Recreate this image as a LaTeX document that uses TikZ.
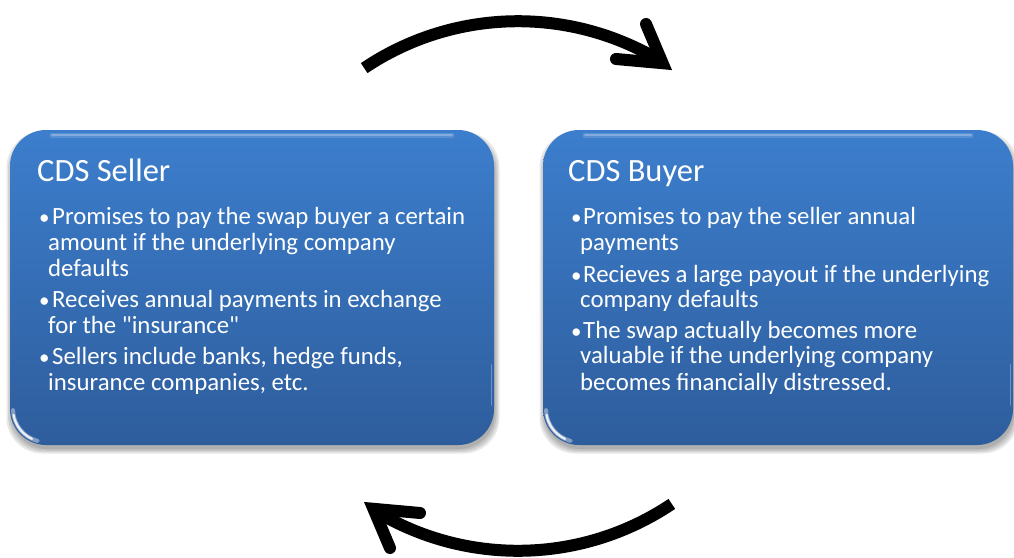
\documentclass[tikz,border=0pt]{standalone}
\usepackage{fontspec}
\setmainfont{Carlito}[Ligatures=TeXOff]
\usetikzlibrary{calc}
\definecolor{boxtop}{HTML}{3C7ECD}
\definecolor{boxbot}{HTML}{2E5D9C}
\begin{document}
\begin{tikzpicture}[x=1pt,y=-1pt,
  boxshape/.style={rounded corners=36pt, top color=boxtop, bottom color=boxbot, draw=none},
  shadowshape/.style={rounded corners=36pt, fill=black, opacity=0.09, draw=none},
  gloss/.style={white, line cap=round},
  titletext/.style={anchor=base west, inner sep=0pt, text=white, font=\fontsize{32.5}{38}\selectfont},
  bodyline/.style={anchor=base west, inner sep=0pt, text=white, font=\fontsize{24.8}{29}\selectfont},
  bulletmark/.style={anchor=base west, inner sep=0pt, text=white, font=\fontsize{21}{26}\selectfont},
  shaft/.style={line width=12pt, black, line cap=butt},
  barbs/.style={line width=12pt, black, line cap=round, line join=miter}]
\useasboundingbox (0,0) rectangle (1014,557);

% shadows
\foreach \d in {0,1.5,3,4.5}{
  \fill[shadowshape] (10-\d+1,130-\d+6) rectangle (494+\d+1,445+\d+4);
  \fill[shadowshape] (543-\d+1,130-\d+6) rectangle (1013+\d+1,445+\d+4);
}
% boxes
\path[boxshape] (10,130) rectangle (494,445);
\path[boxshape] (543,130) rectangle (1013,445);

% gloss highlights
\foreach \ox/\w in {0/484,533/470}{
  \begin{scope}[xshift=\ox pt]
    \draw[gloss, opacity=0.15, line width=5pt] (52,135.5) -- (10+\w-42,135.5);
    \draw[gloss, opacity=0.25, line width=2pt] (52,134.5) -- (10+\w-42,134.5);
    \draw[gloss, opacity=0.4, line width=4pt] (46,409) ++(178:33) arc[start angle=178, end angle=105, radius=33];
    \draw[gloss, opacity=0.85, line width=2.2pt] (46,409) ++(170:33) arc[start angle=170, end angle=115, radius=33];
    \draw[gloss, opacity=0.3, line width=1.5pt] (10+\w-2.5,365) -- (10+\w-2.5,405);
  \end{scope}
}

% titles
\node[titletext] (sellertitle) at (37,181) {CDS Seller};
\node[titletext] (buyertitle) at (568,181) {CDS Buyer};

% left body
\node[bulletmark] (lb1) at (39,224) {•};
\node[bodyline] (l1) at (52,224) {Promises to pay the swap buyer a certain};
\node[bodyline] (l2) at (48,250) {amount if the underlying company};
\node[bodyline] (l3) at (48,276) {defaults};
\node[bulletmark] (lb2) at (39,307) {•};
\node[bodyline] (l4) at (52,307) {Receives annual payments in exchange};
\node[bodyline] (l5) at (48,333) {for the "insurance"};
\node[bulletmark] (lb3) at (39,364) {•};
\node[bodyline] (l6) at (52,364) {Sellers include banks, hedge funds,};
\node[bodyline] (l7) at (48,390) {insurance companies, etc.};

% right body
\node[bulletmark] (rb1) at (571,224) {•};
\node[bodyline] (r1) at (583,224) {Promises to pay the seller annual};
\node[bodyline] (r2) at (580,250) {payments};
\node[bulletmark] (rb2) at (571,282) {•};
\node[bodyline] (r3) at (583,282) {Recieves a large payout if the underlying};
\node[bodyline] (r4) at (580,307) {company defaults};
\node[bulletmark] (rb3) at (571,338) {•};
\node[bodyline] (r5) at (583,338) {The swap actually becomes more};
\node[bodyline] (r6) at (580,363) {valuable if the underlying company};
\node[bodyline] (r7) at (580,390) {becomes financially distressed.};

% cycle arrows
\foreach \rot/\nm in {0/top,180/bottom}{
  \begin{scope}[rotate around={\rot:(518,286)}]
    \coordinate (\nm start) at ($(518,297)+(-123.9:275.8)$);
    \coordinate (\nm tip) at (662.6,63.2);
    \coordinate (\nm barbA) at (646,24);
    \coordinate (\nm barbB) at (616,59);
    \draw[shaft] (\nm start) arc[start angle=-123.9, end angle=-58.3, radius=275.8];
    \draw[barbs] (\nm barbA) -- (\nm tip) -- (\nm barbB);
  \end{scope}
}
\end{tikzpicture}
\end{document}
